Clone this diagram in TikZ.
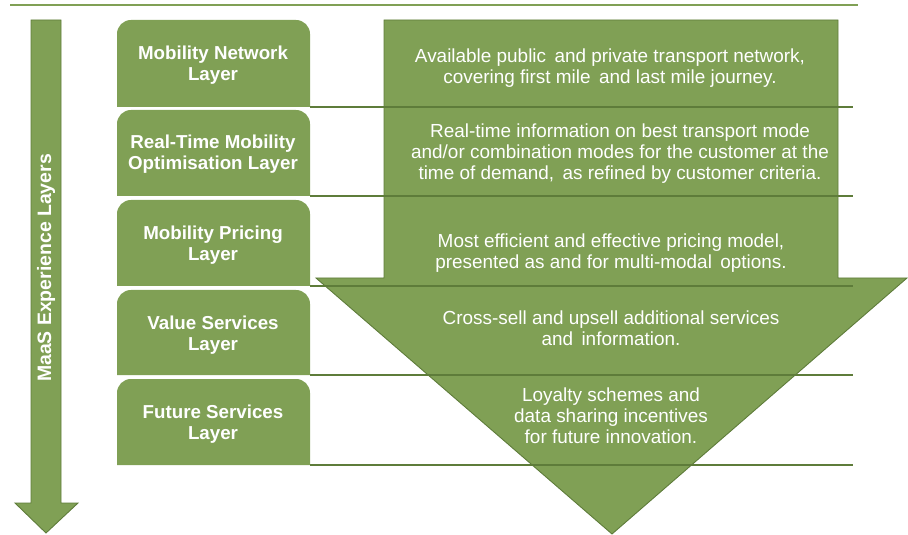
\documentclass[tikz,border=0pt]{standalone}
\usepackage{fontspec}
\setmainfont{Liberation Sans}
\begin{document}
\definecolor{leaf}{RGB}{128,160,85}
\definecolor{leafdark}{RGB}{94,124,58}
\begin{tikzpicture}[x=1bp,y=-1bp,
  layerfill/.style={fill=leaf},
  layertext/.style={text=white,font=\fontsize{18.8}{21}\selectfont\bfseries,align=center},
  desctext/.style={text=white,font=\fontsize{19}{21}\selectfont,align=center},
  rowline/.style={draw=leafdark,line width=1.4pt},
  bigarrow/.style={fill=leaf,draw=leafdark,line width=0.9pt}]
\useasboundingbox (0,0) rectangle (908,535);

% top rule
\draw[leaf,line width=2.8pt] (10,5) -- (858,5);

% vertical experience arrow
\filldraw[bigarrow] (31,20) -- (61,20) -- (61,503) -- (78,503) -- (46,533)
  -- (15,503) -- (31,503) -- cycle;
\node[text=white,rotate=90,font=\fontsize{19.5}{21}\selectfont\bfseries] (axis) at (46,268) {MaaS Experience Layers};

% layer boxes (rounded top corners only)
\foreach \t/\b in {20/107, 110/196, 200/286, 290/375, 379/465}{
  \fill[layerfill] (117,\b) [rounded corners=14pt] -- (117,\t) -- (310,\t)
    [sharp corners] -- (310,\b) -- cycle;
}

% large funnel arrow
\filldraw[bigarrow] (384,20) -- (838,20) -- (838,278) -- (907,278) -- (612,534)
  -- (316,278) -- (384,278) -- cycle;

% layer names
\node[layertext] (l1) at (213,65) {Mobility Network\\Layer};
\node[layertext] (l2) at (213,154) {Real-Time Mobility\\Optimisation Layer};
\node[layertext] (l3) at (213,245) {Mobility Pricing\\Layer};
\node[layertext] (l4) at (213,335) {Value Services\\Layer};
\node[layertext] (l5) at (213,424) {Future Services\\Layer};

% row separators
\coordinate (e1) at (853,107);
\coordinate (e2) at (853,196);
\coordinate (e3) at (853,286);
\coordinate (e4) at (853,375);
\coordinate (e5) at (853,465);
\draw[rowline] (310,107) -- (e1);
\draw[rowline] (310,196) -- (e2);
\draw[rowline] (310,286) -- (e3);
\draw[rowline] (310,375) -- (e4);
\draw[rowline] (310,465) -- (e5);

% descriptions
\node[desctext] (d1) at (610,68) {Available public\, and private transport network,\\covering first mile\, and last mile journey.};
\node[desctext] (d2) at (620,154) {Real-time information on best transport mode\\and/or combination modes for the customer at the\\time of demand,\, as refined by customer criteria.};
\node[desctext] (d3) at (611,253) {Most efficient and effective pricing model,\\presented as and for multi-modal\, options.};
\node[desctext] (d4) at (611,328) {Cross-sell and upsell additional services\\and\, information.};
\node[desctext] (d5) at (611,416) {Loyalty schemes and\\data sharing incentives\\for future innovation.};
\end{tikzpicture}
\end{document}
